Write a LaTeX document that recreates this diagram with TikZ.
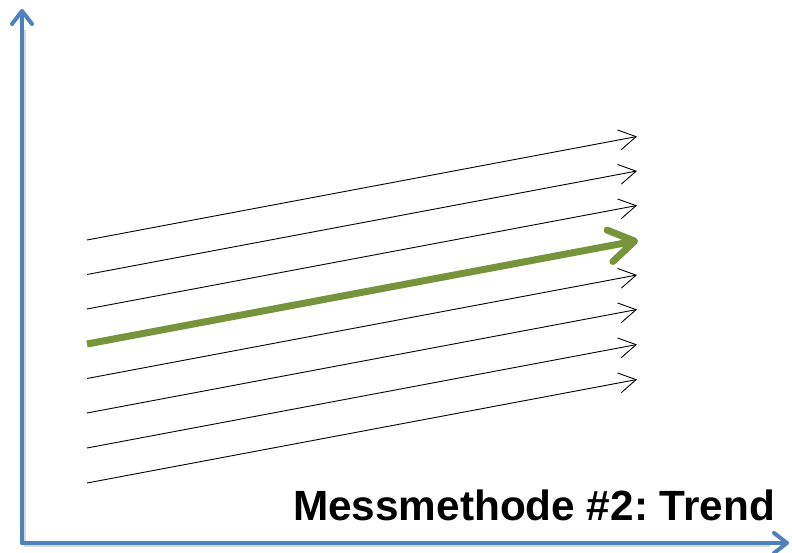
\documentclass[tikz,border=0pt]{standalone}
\usepackage{fontspec}
\setmainfont{Liberation Sans}
\usetikzlibrary{arrows.meta}
\definecolor{axisblue}{HTML}{4F81BD}
\definecolor{trendgreen}{HTML}{77933C}
\begin{document}
\frenchspacing
\begin{tikzpicture}[x=1pt,y=-1pt]
\tikzstyle{axis}=[axisblue, line width=4pt, line cap=round, -{Straight Barb[length=13pt,width=20pt,round]}]
\tikzstyle{run}=[black, line width=0.9pt, -{Straight Barb[length=17pt,width=20pt]}]
\tikzstyle{trend}=[trendgreen, line width=7pt, -{Straight Barb[length=25pt,width=32pt,round]}]
\useasboundingbox (0,0) rectangle (792,553);
% axes
\coordinate (O) at (22,543);
\coordinate (ytop) at (22,9);
\coordinate (xend) at (789,543);
\draw [gray!30, line width=4pt] (24,545) -- (24,30);
\draw [gray!30, line width=4pt] (24,545) -- (770,545);
\draw [axis] (O) -- (ytop);
\draw [axis] (O) -- (xend);
% single runs
\foreach \i/\y in {a/240,b/274.5,c/309,e/378.5,f/413,g/448,h/483}{
  \coordinate (s\i) at (87,\y);
  \coordinate (t\i) at (637,\y-103.5);
  \draw [run] (s\i) -- (t\i);
}
% trend
\coordinate (sd) at (87,344);
\coordinate (td) at (638,240.5);
\draw [trend] (sd) -- (td);
\node [anchor=base west, inner sep=0pt, font=\fontsize{42.3}{48}\selectfont\bfseries] (title) at (293,520) {Messmethode \#2: Trend};
\end{tikzpicture}
\end{document}
